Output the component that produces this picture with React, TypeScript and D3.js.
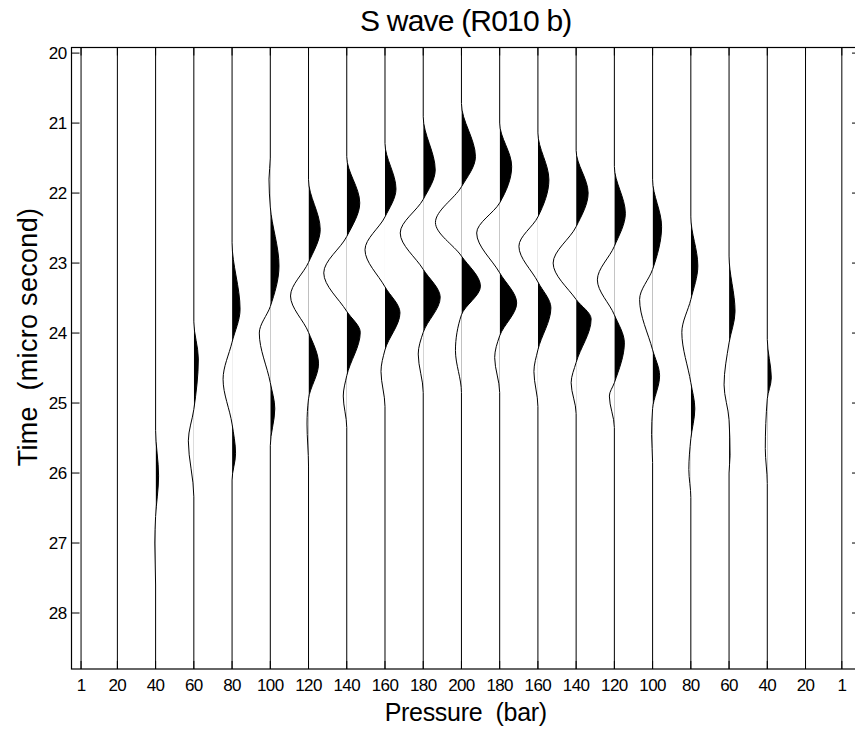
import React from 'react';
import * as d3 from 'd3';

const WIDTH = 855;
const HEIGHT = 731;

// Trace positions on the pressure axis and their tick labels
const tracePositions = [1, 20, 40, 60, 80, 100, 120, 140, 160, 180, 200, 220, 240, 260, 280, 300, 320, 340, 360, 380, 399];
const traceLabels = ['1', '20', '40', '60', '80', '100', '120', '140', '160', '180', '200', '180', '160', '140', '120', '100', '80', '60', '40', '20', '1'];

// Time axis (micro second)
const timeTicks = [20, 21, 22, 23, 24, 25, 26, 27, 28];
const timeDomain: [number, number] = [19.92, 28.8];
const pressureDomain: [number, number] = [-4, 408.5];

// Wavelet key samples for each trace: [time (us), amplitude]
const waveKeys: [number, number][][] = [
  [],
  [],
  [[25.39, 0], [26.04, 3], [26.62, 0], [27.0, -0.8], [27.6, 0]],
  [[23.84, 0], [24.37, 4.5], [25.09, 0], [25.54, -5.5], [26.34, 0]],
  [[22.71, 0], [23.66, 8], [24.13, 0], [24.66, -9], [25.3, 0], [25.72, 3.5], [26.1, 0]],
  [[21.5, 0], [21.8, -1.3], [22.2, 0], [23.04, 8.7], [23.62, 0], [24.0, -11], [24.71, 0], [25.08, 4.5], [25.61, 0]],
  [[21.81, 0], [22.52, 11.7], [22.99, 0], [23.47, -18], [23.99, 0], [24.44, 10], [24.94, 0], [25.3, -1.5], [25.9, 0]],
  [[21.48, 0], [22.14, 13], [22.62, 0], [23.14, -23], [23.69, 0], [23.99, 13.5], [24.61, 0], [24.9, -3.5], [25.35, 0]],
  [[21.29, 0], [21.94, 11], [22.34, 0], [22.81, -20], [23.34, 0], [23.71, 15], [24.24, 0], [24.55, -4], [25.05, 0]],
  [[20.91, 0], [21.67, 12], [22.09, 0], [22.57, -23], [23.09, 0], [23.49, 17], [23.99, 0], [24.3, -5], [24.85, 0]],
  [[20.72, 0], [21.48, 14], [21.91, 0], [22.42, -26], [22.9, 0], [23.33, 19], [23.74, 0], [24.25, -6], [24.85, 0]],
  [[21.0, 0], [21.62, 12], [22.14, 0], [22.57, -23], [23.14, 0], [23.57, 17], [24.04, 0], [24.35, -5], [24.85, 0]],
  [[21.14, 0], [21.81, 11], [22.34, 0], [22.76, -19], [23.27, 0], [23.64, 13], [24.24, 0], [24.55, -4], [25.05, 0]],
  [[21.39, 0], [22.0, 12], [22.48, 0], [23.0, -23], [23.52, 0], [23.8, 15], [24.42, 0], [24.71, -5], [25.15, 0]],
  [[21.62, 0], [22.29, 11], [22.76, 0], [23.24, -17], [23.74, 0], [24.14, 10], [24.71, 0], [24.9, -5], [25.35, 0]],
  [[21.81, 0], [22.48, 9], [23.09, 0], [23.52, -13], [24.24, 0], [24.61, 7], [25.08, 0], [25.45, -1], [25.85, 0]],
  [[22.34, 0], [23.04, 7], [23.52, 0], [23.99, -9], [24.71, 0], [25.08, 4], [25.51, 0], [25.95, -2], [26.35, 0]],
  [[22.9, 0], [23.69, 6], [24.14, 0], [24.74, -5], [25.24, 0], [25.75, 1], [26.0, 0]],
  [[24.09, 0], [24.64, 4], [24.94, 0], [25.65, -2], [26.15, 0]],
  [],
  [],
];

const FONT = '"Liberation Sans", Arial, Helvetica, sans-serif';

export default function App() {
  const x = d3.scaleLinear().domain(pressureDomain).range([71.5, 860]);
  const y = d3.scaleLinear().domain(timeDomain).range([47.5, 669]);
  const amp = d3.scaleLinear().domain([-1, 1]).range([-1, 1]);
  const [x0, x1] = x.range();
  const [y0, y1] = y.range();
  const tickLen = 8;

  const traces = tracePositions.map((p, i) => {
    const pts: [number, number][] = [[timeDomain[0], 0], ...waveKeys[i], [timeDomain[1], 0]];
    const bx = x(p);
    const line = d3.line<[number, number]>()
      .x(d => bx + amp(d[1]))
      .y(d => y(d[0]))
      .curve(d3.curveMonotoneY)(pts) || '';
    const area = d3.area<[number, number]>()
      .x0(bx)
      .x1(d => bx + amp(d[1]))
      .y(d => y(d[0]))
      .curve(d3.curveMonotoneY)(pts) || '';
    return { p, bx, line, area, i };
  });

  return (
    <svg width={WIDTH} height={HEIGHT} style={{ position: 'absolute', left: 0, top: 0, background: '#fff' }}>
      <rect x={0} y={0} width={WIDTH} height={HEIGHT} fill="#fff" />
      <defs>
        {traces.map(t => (
          <clipPath id={`pos-${t.i}`} key={t.i}>
            <rect x={t.bx} y={y0} width={60} height={y1 - y0} />
          </clipPath>
        ))}
      </defs>
      {traces.map(t => (
        <g key={t.i}>
          <path d={t.area} fill="#000" clipPath={`url(#pos-${t.i})`} />
          <path d={t.line} fill="none" stroke="#000" strokeWidth={1} />
        </g>
      ))}
      {/* axes box */}
      <rect x={x0} y={y0} width={x1 - x0} height={y1 - y0} fill="none" stroke="#000" strokeWidth={1.2} />
      {timeTicks.map(t => (
        <g key={t}>
          <line x1={x0} x2={x0 + tickLen} y1={y(t)} y2={y(t)} stroke="#000" />
          <line x1={x1} x2={x1 - tickLen} y1={y(t)} y2={y(t)} stroke="#000" />
          <text x={x0 - 5} y={y(t)} dy="0.36em" textAnchor="end" fontFamily={FONT} fontSize={17} letterSpacing={-0.6}>{t}</text>
        </g>
      ))}
      {tracePositions.map((p, i) => (
        <g key={i}>
          <line x1={x(p)} x2={x(p)} y1={y1} y2={y1 - tickLen} stroke="#000" />
          <line x1={x(p)} x2={x(p)} y1={y0} y2={y0 + tickLen} stroke="#000" />
          <text x={x(p)} y={691} textAnchor="middle" fontFamily={FONT} fontSize={17} letterSpacing={-0.6}>{traceLabels[i]}</text>
        </g>
      ))}
      <text x={(x0 + x1) / 2} y={31} textAnchor="middle" fontFamily={FONT} fontSize={30} letterSpacing={-0.8}>S wave (R010 b)</text>
      <text x={(x0 + x1) / 2} y={721} textAnchor="middle" fontFamily={FONT} fontSize={25} letterSpacing={-0.3} style={{ whiteSpace: 'pre' }}>{'Pressure  (bar)'}</text>
      <text transform={`translate(37, 337) rotate(-90)`} textAnchor="middle" fontFamily={FONT} fontSize={27} letterSpacing={0.3} style={{ whiteSpace: 'pre' }}>{'Time  (micro second)'}</text>
    </svg>
  );
}
